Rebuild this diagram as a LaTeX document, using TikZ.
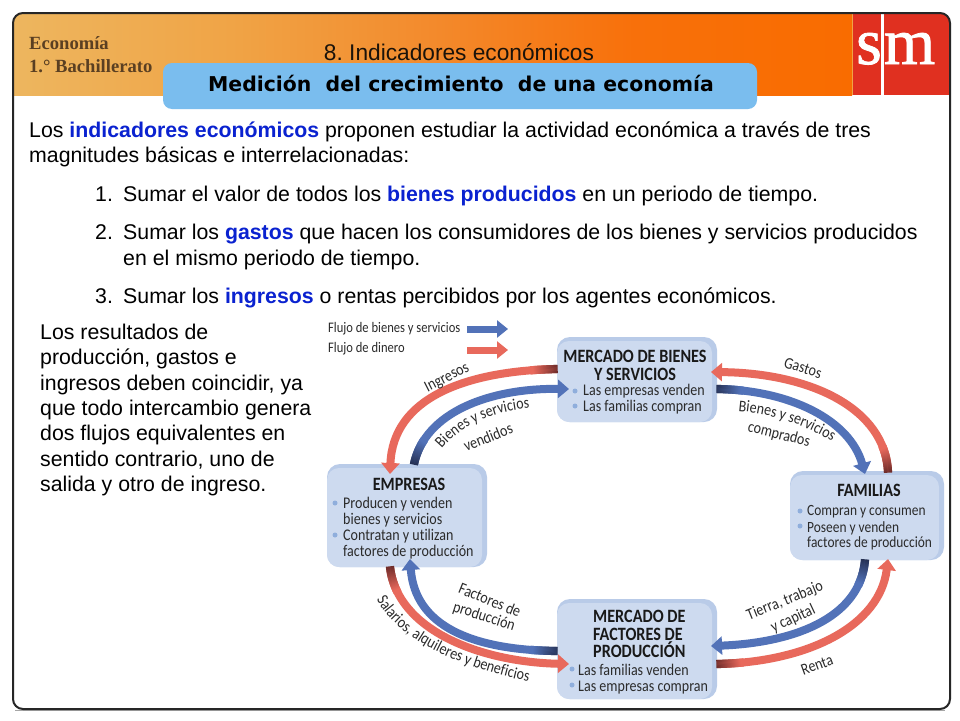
\documentclass[tikz,border=0pt]{standalone}
\usepackage{fontspec}
\setmainfont{Liberation Sans}
\newfontfamily\condf[FakeStretch=0.86,Ligatures=NoCommon]{Carlito}
\newfontfamily\titlef{DejaVu Sans}
\newfontfamily\serf{Liberation Serif}
\newfontfamily\logof[FakeBold=1.2]{Liberation Serif}
\usetikzlibrary{arrows.meta,decorations.markings,decorations.text,calc}
\definecolor{hA}{HTML}{EDB65F}
\definecolor{hB}{HTML}{F0A446}
\definecolor{hC}{HTML}{F38A2C}
\definecolor{hD}{HTML}{F8700A}
\definecolor{hE}{HTML}{F96C00}
\definecolor{smred}{HTML}{E03020}
\definecolor{banner}{HTML}{7ABDEE}
\definecolor{kw}{HTML}{0A22D0}
\definecolor{boxin}{HTML}{CDDAEF}
\definecolor{boxout}{HTML}{B9CBE8}
\definecolor{dot}{HTML}{8FAEDC}
\definecolor{fblue}{HTML}{5272B8}
\definecolor{fred}{HTML}{E8695C}
\definecolor{dblue}{HTML}{252F50}
\definecolor{dred}{HTML}{6A2A28}
\definecolor{lab}{HTML}{2B2B2B}
\definecolor{hdtxt}{HTML}{5A3F22}
\pgfdeclarehorizontalshading{hdr}{100bp}{color(0bp)=(hA); color(25bp)=(hA); color(38bp)=(hB); color(50bp)=(hC); color(62bp)=(hD); color(75bp)=(hE); color(100bp)=(hE)}
\newcommand\bfs{\fontsize{21.3}{21.3}\selectfont}
\newcommand\labfont{\condf\fontsize{16.3}{16.3}\selectfont\color{lab}}
\newcommand\kwd[1]{\textcolor{kw}{\textbf{#1}}}
\tikzset{
 bodyt/.style={anchor=base west,inner sep=0pt,font=\bfs,text=black},
 head/.style={inner sep=0pt},
 frameline/.style={draw=black!85,line width=2pt,rounded corners=10pt},
 boxnode/.style={fill=boxout,rounded corners=13pt,inner sep=0pt,draw=none},
 boxtitle/.style={inner sep=0pt,font=\condf\bfseries\fontsize{18.8}{18.8}\selectfont,text=black!90},
 boxtxt/.style={anchor=base west,inner sep=0pt,font=\condf\fontsize{16.3}{16.3}\selectfont,text=lab},
 famtxt/.style={boxtxt,font=\condf\fontsize{15.6}{15.6}\selectfont},
 legtxt/.style={boxtxt,font=\condf\fontsize{14.6}{14.6}\selectfont},
 boxdot/.style={circle,fill=dot,inner sep=0pt,minimum size=5pt},
 lab/.style={inner sep=0pt,font=\labfont},
 gradmark/.style n args={2}{postaction={decorate,decoration={markings,
   mark=between positions 0pt and 26pt step 1pt with {
     \pgfmathsetmacro\mixv{max(0,100-4*\pgfkeysvalueof{/pgf/decoration/mark info/sequence number})}
     \fill[#1!\mixv!#2] (-0.7,-4.1) rectangle (0.7,4.1);}}}},
 flowb/.style={draw=fblue,line width=8pt,-{Triangle[width=18pt,length=11pt]},gradmark={dblue}{fblue}},
 flowr/.style={draw=fred,line width=8pt,-{Triangle[width=18pt,length=11pt]},gradmark={dred}{fred}},
 legb/.style={draw=fblue,line width=7pt,-{Triangle[width=17pt,length=11pt]}},
 legr/.style={draw=fred,line width=7pt,-{Triangle[width=17pt,length=11pt]}},
 alongt/.style={decorate,decoration={text along path,text align=center,text={#1}}},
}
\newcommand\flowbox[5]{% name x1 y1 x2 y2
 \node[boxnode,minimum width={(#4-#2)*1pt},minimum height={(#5-#3)*1pt}] (#1) at ({(#2+#4)/2},{(#3+#5)/2}) {};
 \fill[boxin,rounded corners=12pt] (#2,#3+4) rectangle (#4-5,#5);
}
\begin{document}
\frenchspacing
\begin{tikzpicture}[x=1pt,y=-1pt]
\useasboundingbox (0,0) rectangle (960,720);
\fill[white] (0,0) rectangle (960,720);
% header
\begin{scope}
 \clip[rounded corners=10pt] (13,13) rectangle (950,709);
 \shade[shading=hdr] (13,13) rectangle (852,95);
 \fill[smred] (852,13) rectangle (950,95);
 \fill[hB] (851.5,13) rectangle (853,95);
 \fill[white] (881,13) rectangle (883.5,95);
\end{scope}
\node[head,anchor=base,text=white,font=\logof\fontsize{66}{66}\selectfont] (logoS) at (869,64) {s};
\node[head,anchor=base,text=white,font=\logof\fontsize{66}{66}\selectfont] (logoM) at (909.5,64) {m};
\node[head,anchor=base west,text=hdtxt,font=\serf\bfseries\fontsize{18.6}{18.6}\selectfont,scale=0.82] (eco) at (29,49) {\fontsize{22.7}{22.7}\selectfont Economía};
\node[head,anchor=base west,text=hdtxt,font=\serf\bfseries\fontsize{18.6}{18.6}\selectfont,scale=0.82] (bach) at (29,72) {\fontsize{22.7}{22.7}\selectfont 1.° Bachillerato};
\node[head,anchor=base,text=black!70!hdtxt,font=\fontsize{22.7}{22.7}\selectfont] (ind) at (459,60) {8. Indicadores económicos};
\node[fill=banner,rounded corners=9pt,inner sep=0pt,minimum width=594pt,minimum height=46pt] (ban) at (460,86) {};
\node[head,anchor=base,text=black,font=\titlef\bfseries\fontsize{20.4}{20.4}\selectfont] (tit) at (461,91) {Medición\ \ del crecimiento\ \ de una economía};
% frame
\fill[black!35] (15,709.5) rectangle (945,711);
\draw[frameline] (13,13) rectangle (950,709);
% body
\node[bodyt] (p1) at (29,137) {Los \kwd{indicadores económicos} proponen estudiar la actividad económica a través de tres};
\node[bodyt] (p2) at (29,162) {magnitudes básicas e interrelacionadas:};
\node[bodyt] (n1) at (95,201) {1.};
\node[bodyt] (i1) at (123,201) {Sumar el valor de todos los \kwd{bienes producidos} en un periodo de tiempo.};
\node[bodyt] (n2) at (95,239) {2.};
\node[bodyt] (i2) at (123,239) {Sumar los \kwd{gastos} que hacen los consumidores de los bienes y servicios producidos};
\node[bodyt] (i2b) at (123,265) {en el mismo periodo de tiempo.};
\node[bodyt] (n3) at (95,303) {3.};
\node[bodyt] (i3) at (123,303) {Sumar los \kwd{ingresos} o rentas percibidos por los agentes económicos.};
\node[bodyt] (l1) at (40,339) {Los resultados de};
\node[bodyt] (l2) at (40,364) {producción, gastos e};
\node[bodyt] (l3) at (40,390) {ingresos deben coincidir, ya};
\node[bodyt] (l4) at (40,415) {que todo intercambio genera};
\node[bodyt] (l5) at (40,440) {dos flujos equivalentes en};
\node[bodyt] (l6) at (40,466) {sentido contrario, uno de};
\node[bodyt] (l7) at (40,491) {salida y otro de ingreso.};
% boxes
\flowbox{mb}{557}{337}{717}{422}
\flowbox{emp}{327}{464}{487}{567}
\flowbox{fam}{790}{471}{944}{560}
\flowbox{mf}{557}{599}{717}{699}
% legend
\node[legtxt] (lg1) at (328,332) {Flujo de bienes y servicios};
\node[legtxt] (lg2) at (328,352) {Flujo de dinero};
\coordinate (lgbA) at (467,329); \coordinate (lgbB) at (508,329);
\coordinate (lgrA) at (467,350); \coordinate (lgrB) at (508,350);
\draw[legb] (lgbA) -- (lgbB);
\draw[legr] (lgrA) -- (lgrB);
% connector ends on the boxes
\coordinate (mbL1) at (557,369); \coordinate (mbL2) at (569,389);
\coordinate (mbR1) at (711,372); \coordinate (mbR2) at (717,389);
\coordinate (empT1) at (390,474); \coordinate (empT2) at (414,464);
\coordinate (empB1) at (390,567); \coordinate (empB2) at (410,559);
\coordinate (famT1) at (888,472); \coordinate (famT2) at (865,474);
\coordinate (famB1) at (888,559); \coordinate (famB2) at (865,560);
\coordinate (mfL1) at (557,651); \coordinate (mfL2) at (569,664);
\coordinate (mfR1) at (711,646); \coordinate (mfR2) at (717,664);
% connectors
\path[flowr] (mbL1) .. controls (465,371) and (393,398) .. (empT1);
\path[flowb] (empT2) .. controls (425,412) and (490,388) .. (mbL2);
\path[flowr] (famT1) .. controls (885,408) and (810,373) .. (mbR1);
\path[flowb] (mbR2) .. controls (790,390) and (850,420) .. (famT2);
\path[flowb] (mfL1) .. controls (470,650) and (415,625) .. (empB2);
\path[flowr] (empB1) .. controls (397,630) and (480,662) .. (mfL2);
\path[flowb] (famB2) .. controls (860,620) and (790,643) .. (mfR1);
\path[flowr] (mfR2) .. controls (810,662) and (880,625) .. (famB1);
% box texts
\node[boxtitle] (mbt1) at (635,362) [anchor=base] {MERCADO DE BIENES};
\node[boxtitle] (mbt2) at (635,380) [anchor=base] {Y SERVICIOS};
\node[boxdot] (mbd1) at (575,391) {}; \node[boxtxt] (mbx1) at (583,395) {Las empresas venden};
\node[boxdot] (mbd2) at (575,406) {}; \node[boxtxt] (mbx2) at (583,411) {Las familias compran};
\node[boxtitle] (emt) at (409,490) [anchor=base] {EMPRESAS};
\node[boxdot] (emd1) at (335,503) {}; \node[boxtxt] (emx1) at (343,508) {Producen y venden};
\node[boxtxt] (emx2) at (343,524) {bienes y servicios};
\node[boxdot] (emd2) at (335,535) {}; \node[boxtxt] (emx3) at (343,540) {Contratan y utilizan};
\node[boxtxt] (emx4) at (343,556) {factores de producción};
\node[boxtitle] (fat) at (869,496) [anchor=base] {FAMILIAS};
\node[boxdot] (fad1) at (800,511) {}; \node[famtxt] (fax1) at (807,515) {Compran y consumen};
\node[boxdot] (fad2) at (800,526) {}; \node[famtxt] (fax2) at (807,532) {Poseen y venden};
\node[famtxt] (fax3) at (807,547) {factores de producción};
\node[boxtitle,anchor=base west] (mft1) at (593,622) {MERCADO DE};
\node[boxtitle,anchor=base west] (mft2) at (593,640) {FACTORES DE};
\node[boxtitle,anchor=base west] (mft3) at (593,657) {PRODUCCIÓN};
\node[boxdot] (mfd1) at (572,669) {}; \node[boxtxt] (mfx1) at (578,675) {Las familias venden};
\node[boxdot] (mfd2) at (572,685) {}; \node[boxtxt] (mfx2) at (578,691) {Las empresas compran};
% flow labels
\node[lab,rotate=27] (lbI) at (447,378) {Ingresos};
\path[alongt={|\labfont|Bienes y servicios}] (439,452) .. controls (460,425) and (495,410) .. (534,408);
\node[lab,rotate=22] (lbV) at (488,437) {vendidos};
\node[lab,rotate=-17] (lbG) at (803,368) {Gastos};
\path[alongt={|\labfont|Bienes y servicios}] (735,411) .. controls (770,413) and (805,425) .. (835,443);
\node[lab,rotate=-14] (lbC) at (779,435) {comprados};
\node[lab,rotate=-22] (lbF) at (490,600) {Factores de};
\node[lab,rotate=-18] (lbP) at (484,617) {producción};
\path[alongt={|\labfont|Salarios, alquileres y beneficios}] (372,590) .. controls (387,630) and (442,665) .. (539,684);
\node[lab,rotate=22] (lbT) at (785,601) {Tierra, trabajo};
\node[lab,rotate=25] (lbK) at (793,619) {y capital};
\node[lab,rotate=20] (lbR) at (817,665) {Renta};
\end{tikzpicture}
\end{document}
